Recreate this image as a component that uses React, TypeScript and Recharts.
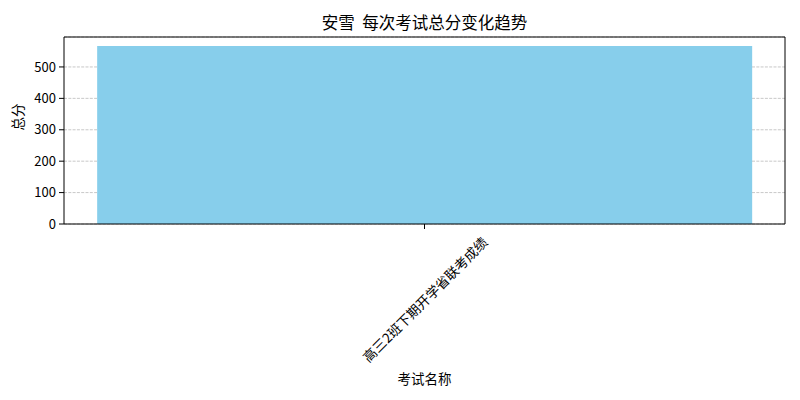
import { BarChart, Bar, XAxis, YAxis, CartesianGrid } from "recharts"

const exams = ["高三2班下期开学省联考成绩"]
const totals = [567]
const yTicks = [0, 100, 200, 300, 400, 500]

const data = exams.map((name, i) => ({ name, total: totals[i] }))

const cjk = "'Noto Sans CJK SC', 'Noto Sans', sans-serif"

function RotatedTick(props: any) {
  const { x, y, payload } = props
  return (
    <text
      transform={`translate(${x},${y + 68}) rotate(-45)`}
      textAnchor="middle"
      dominantBaseline="central"
      fontSize={13.5}
      fontFamily={cjk}
      fill="#000"
    >
      {payload.value}
    </text>
  )
}

export default function App() {
  return (
    <div style={{ position: "absolute", left: 0, top: 0, width: 800, height: 400, background: "#fff" }}>
      <div
        style={{
          position: "absolute",
          left: 64,
          width: 721,
          top: 12,
          textAlign: "center",
          fontFamily: cjk,
          fontSize: 16.5,
          whiteSpace: "pre",
          lineHeight: "20px",
        }}
      >
        安雪  每次考试总分变化趋势
      </div>
      <BarChart
        width={800}
        height={400}
        data={data}
        margin={{ top: 36, right: 14, bottom: 0, left: 0 }}
        barCategoryGap="4.6%"
      >
        <CartesianGrid
          vertical={false}
          stroke="#b0b0b0"
          strokeOpacity={0.7}
          strokeDasharray="3 1.3"
        />
        <XAxis
          dataKey="name"
          height={176}
          axisLine={{ stroke: "#000", strokeOpacity: 1 }}
          tickLine={{ stroke: "#000" }}
          tickSize={5}
          interval={0}
          tick={<RotatedTick />}
          label={{
            value: "考试名称",
            position: "insideBottom",
            offset: 16,
            fontSize: 13.5,
            fontFamily: cjk,
            fill: "#000",
          }}
        />
        <XAxis
          xAxisId="top"
          dataKey="name"
          orientation="top"
          height={1}
          axisLine={{ stroke: "#000" }}
          tick={false}
          tickLine={false}
        />
        <YAxis
          width={64}
          domain={[0, 595.35]}
          ticks={yTicks}
          axisLine={{ stroke: "#000" }}
          tickLine={{ stroke: "#000" }}
          tickSize={5}
          tickMargin={3}
          tick={{ fontSize: 13, fontFamily: cjk, fill: "#000" }}
          label={{
            value: "总分",
            angle: -90,
            position: "insideLeft",
            offset: 18,
            fontSize: 13.5,
            fontFamily: cjk,
            fill: "#000",
          }}
        />
        <YAxis
          yAxisId="right"
          orientation="right"
          width={1}
          domain={[0, 595.35]}
          axisLine={{ stroke: "#000" }}
          tick={false}
          tickLine={false}
        />
        <Bar dataKey="total" fill="#87CEEB" isAnimationActive={false} />
      </BarChart>
    </div>
  )
}
